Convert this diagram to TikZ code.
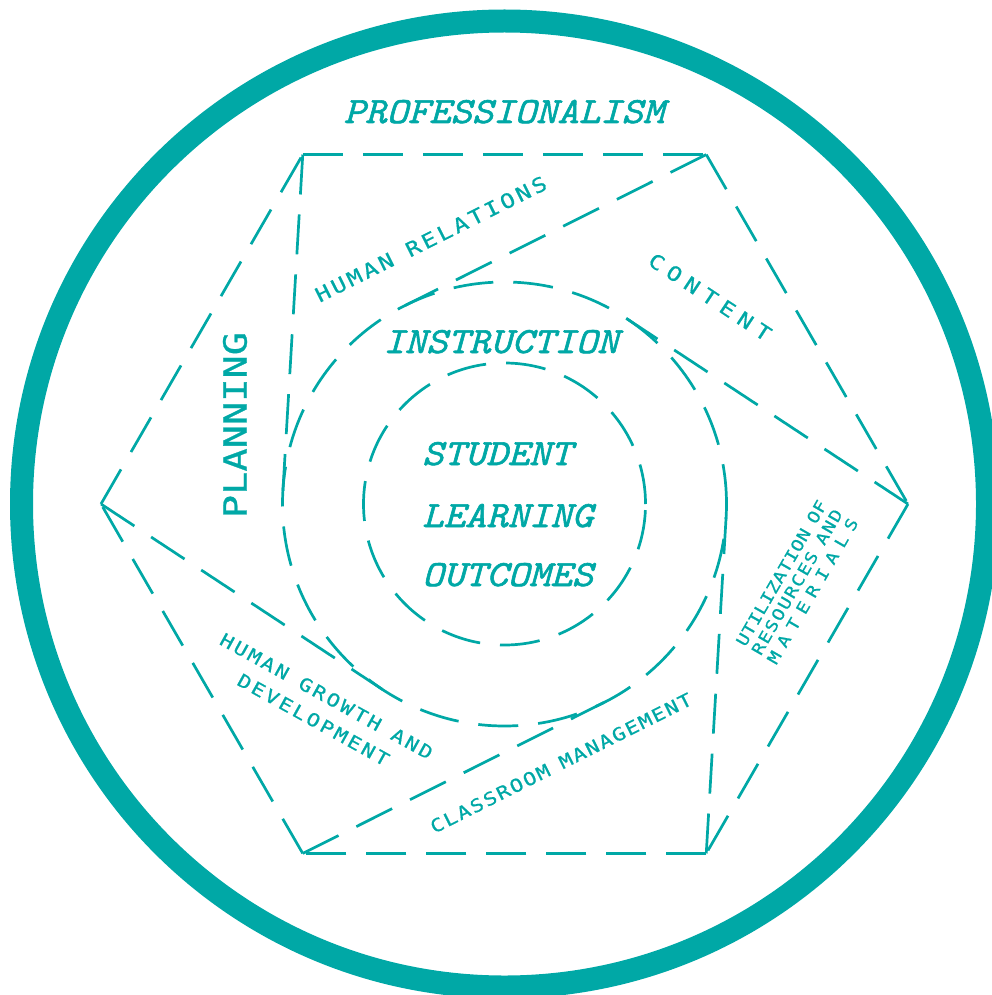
\documentclass[tikz,border=0pt]{standalone}
\usepackage{fontspec}
\usetikzlibrary{calc}
\newfontfamily\titlefont{lmmono10-italic.otf}[FakeBold=1.6, FakeStretch=1.1]
\newfontfamily\cadfont{DejaVu Sans Mono}[FakeStretch=1.2, FakeBold=0.8]
\definecolor{tealink}{RGB}{0,168,166}
% spread the letters of a label over a fixed width; | marks a word gap
\makeatletter
\newcommand\spreadout[2]{\makebox[#1][s]{\@tfor\sp@c:=#2\do{\expandafter\ifx\sp@c|\hskip .5em plus 1fil\else\sp@c\hfil\fi}\unskip}}
\makeatother
\begin{document}
\begin{tikzpicture}[x=1pt,y=-1pt,
  dashline/.style={draw=tealink, line width=2.7pt, dash pattern=on 40pt off 20pt},
  bigtitle/.style={text=tealink, font=\titlefont\fontsize{37}{44}\selectfont, inner sep=0pt},
  cadlabel/.style={text=tealink, inner sep=0pt, align=center}]
\path[use as bounding box] (0,0) rectangle (991,995);
\coordinate (C) at (504.5,504);
% outer ring
\draw[tealink, line width=23pt] (C) circle[radius=483pt];
% hexagon corners and the tangent points of the pinwheel lines
\foreach \k in {0,...,5}{
  \coordinate (v\k) at ($(C)+(180+60*\k:403.5)$);
  \coordinate (t\k) at ($(C)+(123.38+60*\k:222)$);
}
\foreach \k in {0,...,5}{
  \pgfmathtruncatemacro\n{mod(\k+1,6)}
  \draw[dashline] (v\k) -- (v\n);
  \draw[dashline] (v\k) -- (t\k);
}
% inner circles
\draw[dashline] (C) circle[radius=222pt];
\draw[dashline] (C) circle[radius=141pt];
% titles
\node[bigtitle, anchor=base] (prof) at (504,123) {PROFESSIONALISM};
\node[bigtitle, anchor=base] (instr) at (501,353) {INSTRUCTION};
\node[bigtitle, anchor=base west] (slo1) at (422,465) {STUDENT};
\node[bigtitle, anchor=base west] (slo2) at (422,527) {LEARNING};
\node[bigtitle, anchor=base west] (slo3) at (422,586) {OUTCOMES};
% domain labels
\node[cadlabel, font=\cadfont\fontsize{20}{22}\selectfont, rotate=26.6] (hr) at (431,239) {\spreadout{256pt}{HUMAN|RELATIONS}};
\node[cadlabel, font=\cadfont\fontsize{20}{22}\selectfont, rotate=-33.4] (ct) at (710,297) {\spreadout{142pt}{CONTENT}};
\node[cadlabel, font=\cadfont\fontsize{32}{34}\selectfont, rotate=90] (pl) at (235,425) {\spreadout{186pt}{PLANNING}};
\node[cadlabel, font=\cadfont\fontsize{16}{18}\selectfont, rotate=60] (ur) at (797,582) {\spreadout{165pt}{UTILIZATION|OF}\\\spreadout{165pt}{RESOURCES|AND}\\\spreadout{165pt}{MATERIALS}};
\node[cadlabel, font=\cadfont\fontsize{18}{27}\selectfont, rotate=-29] (hg) at (320,708) {\spreadout{240pt}{HUMAN|GROWTH|AND}\\\spreadout{170pt}{DEVELOPMENT}};
\node[cadlabel, font=\cadfont\fontsize{18}{20}\selectfont, rotate=26.6] (cm) at (561,763) {\spreadout{290pt}{CLASSROOM|MANAGEMENT}};
\end{tikzpicture}
\end{document}
